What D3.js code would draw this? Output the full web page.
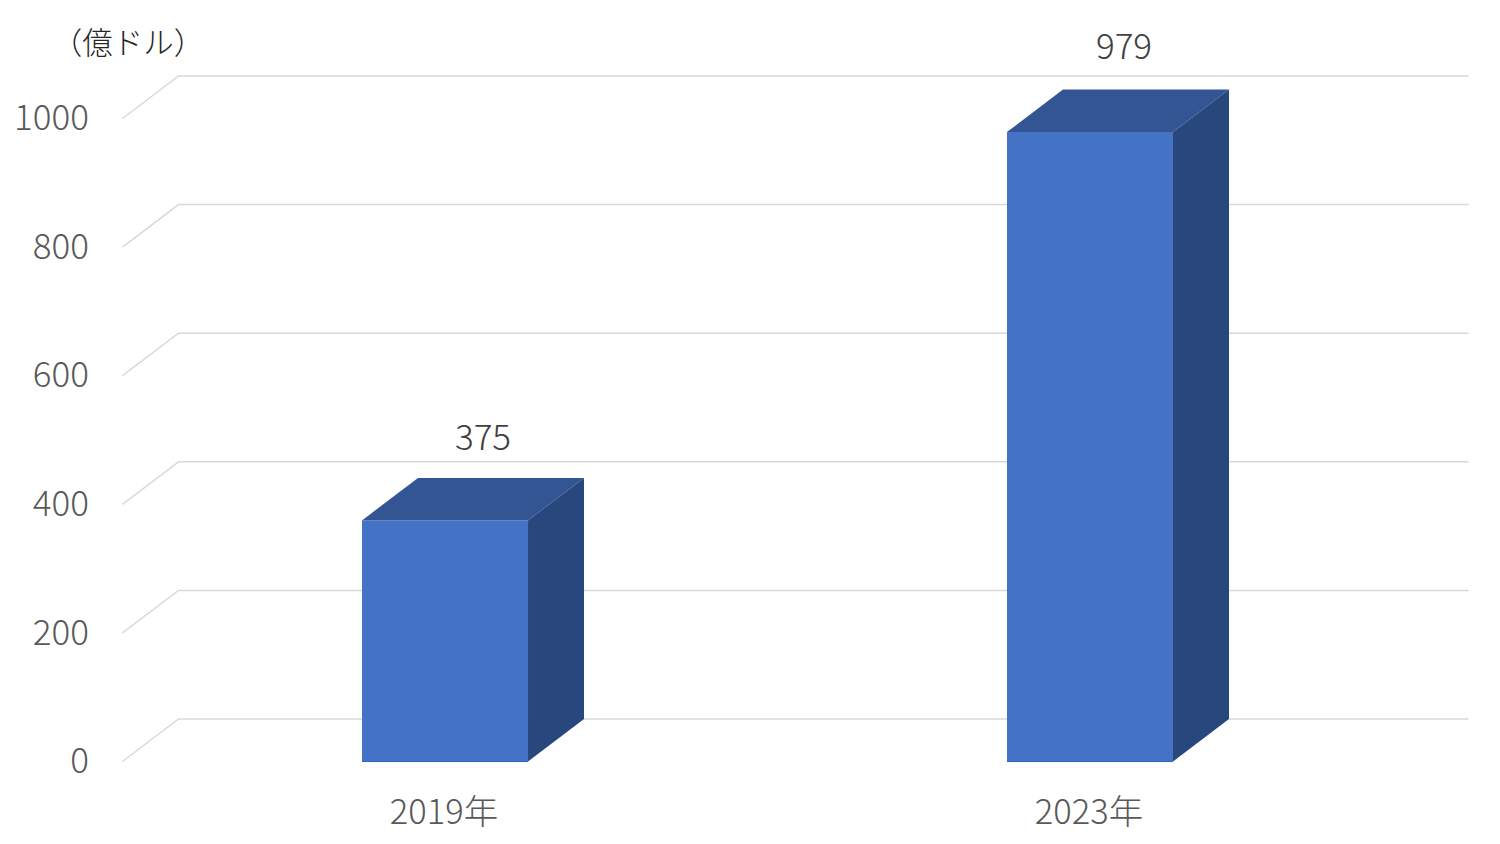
<!DOCTYPE html>
<html>

<head>
    <meta charset="utf-8">
    <title>億ドル</title>
    <script src="https://d3js.org/d3.v7.min.js"></script>
    <style>
        html, body {
            margin: 0;
            padding: 0;
            background: #fff;
        }

        text {
            font-family: "Noto Sans CJK JP", "Noto Sans", sans-serif;
            font-weight: 300;
        }
    </style>
</head>

<body>
    <div id="chart"></div>

    <script>
        const categories = ["2019年", "2023年"];
        const values = [375, 979];
        const valueLabels = ["375", "979"];
        const yTicks = [0, 200, 400, 600, 800, 1000];
        const unitLabel = "（億ドル）";

        const width = 1500;
        const height = 844;
        // offset of the back wall from the front plane
        const depth = { x: 56, y: -42.5 };

        const svg = d3.select("#chart")
            .append("svg")
            .attr("width", width)
            .attr("height", height)
            .style("display", "block");

        const x = d3.scaleBand()
            .domain(categories)
            .range([122.5, 1412.5])
            .paddingInner(0.7426)
            .paddingOuter(0.3713);

        const y = d3.scaleLinear()
            .domain([0, 1000])
            .range([761.5, 118.5]);

        // gridlines: floor/wall edge plus the long line along the back wall
        const grid = svg.append("g");
        yTicks.forEach(t => {
            grid.append("path")
                .attr("d", d3.line()([
                    [x.range()[0], y(t)],
                    [x.range()[0] + depth.x, y(t) + depth.y],
                    [x.range()[1] + depth.x, y(t) + depth.y]
                ]))
                .attr("fill", "none")
                .attr("stroke", "#d9d9d9")
                .attr("stroke-width", 1.5);
        });

        // y axis labels
        const yAxis = svg.append("g")
            .attr("transform", "translate(93,0)")
            .call(d3.axisLeft(y).tickValues(yTicks).tickFormat(d3.format("d")).tickSize(0).tickPadding(4));
        yAxis.select(".domain").remove();
        yAxis.selectAll("text")
            .attr("fill", "#595959")
            .style("font-size", "35px")
            .style("font-family", '"Noto Sans CJK JP"');

        // x axis labels
        const xAxis = svg.append("g")
            .attr("transform", "translate(-1,799)")
            .call(d3.axisBottom(x).tickSize(0).tickPadding(0));
        xAxis.select(".domain").remove();
        xAxis.selectAll("text")
            .attr("fill", "#595959")
            .style("font-size", "34.5px")
            .attr("dy", "0.71em")
            .style("font-family", '"Noto Sans CJK JP"');

        // 3D bars
        categories.forEach((c, i) => {
            const x0 = x(c);
            const x1 = x0 + x.bandwidth();
            const y0 = y(0);
            const y1 = y(values[i]);
            const poly = pts => d3.line()(pts) + "Z";

            const bar = svg.append("g");
            bar.append("path")
                .attr("d", poly([[x0, y1], [x1, y1], [x1 + depth.x, y1 + depth.y], [x0 + depth.x, y1 + depth.y]]))
                .attr("fill", "#335593");
            bar.append("path")
                .attr("d", poly([[x1, y1], [x1 + depth.x, y1 + depth.y], [x1 + depth.x, y0 + depth.y], [x1, y0]]))
                .attr("fill", "#28487d");
            bar.append("rect")
                .attr("x", x0)
                .attr("y", y1)
                .attr("width", x.bandwidth())
                .attr("height", y0 - y1)
                .attr("fill", "#4472c4");
            bar.append("path")
                .attr("d", d3.line()([[x0, y0], [x1, y0]]))
                .attr("stroke", "#2f68c0")
                .attr("stroke-width", 1);

            // the two value labels do not sit at quite the same offset in the original
            svg.append("text")
                .attr("x", x0 + x.bandwidth() / 2 + (i === 0 ? 38 : 34))
                .attr("y", y1 + depth.y - (i === 0 ? 28 : 31))
                .attr("text-anchor", "middle")
                .attr("fill", "#404040")
                .style("font-size", "35px")
                .text(valueLabels[i]);
        });

        svg.append("text")
            .attr("x", 128)
            .attr("y", 54)
            .attr("text-anchor", "middle")
            .attr("fill", "#262626")
            .style("font-size", "30.5px")
            .text(unitLabel);
    </script>
</body>

</html>
